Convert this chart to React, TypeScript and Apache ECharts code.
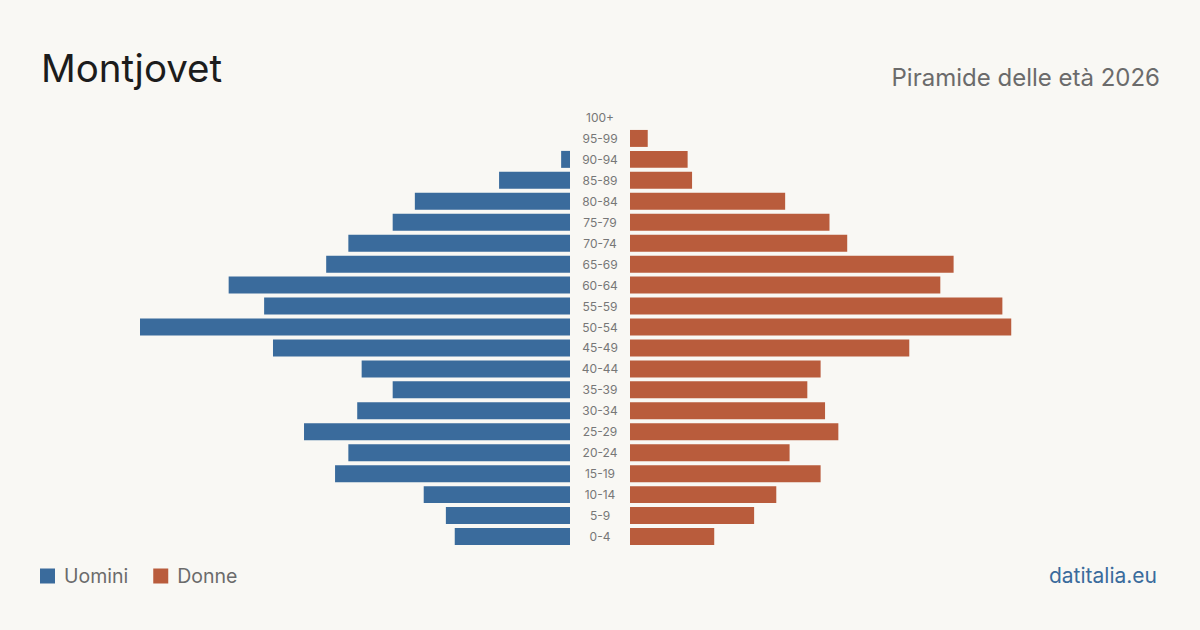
import React, { useEffect, useRef } from "react";
import * as echarts from "echarts";

const ageGroups = ["0-4","5-9","10-14","15-19","20-24","25-29","30-34","35-39","40-44","45-49","50-54","55-59","60-64","65-69","70-74","75-79","80-84","85-89","90-94","95-99","100+"];
const men = [26,28,33,53,50,60,48,40,47,67,97,69,77,55,50,40,35,16,2,0,0];
const women = [19,28,33,43,36,47,44,40,43,63,86,84,70,73,49,45,35,14,13,4,0];
const axisMax = 97;

const BLUE = "#3a6b9c";
const ORANGE = "#b95c3c";
const BG = "#f9f8f4";
const FONT = "Inter, 'Noto Sans', sans-serif";

export default function App() {
  const ref = useRef<HTMLDivElement>(null);
  useEffect(() => {
    const chart = echarts.init(ref.current!, null, { renderer: "svg" });
    chart.setOption({
      animation: false,
      backgroundColor: BG,
      textStyle: { fontFamily: FONT },
      title: [
        { text: "Montjovet", left: 36, top: 43, textStyle: { fontFamily: FONT, fontSize: 38.5, fontWeight: 400, color: "#1c1c1c" } },
        { text: "Piramide delle età 2026", right: 35, top: 60, textStyle: { fontFamily: FONT, fontSize: 24, fontWeight: 400, color: "#6b6b6b" } },
        { text: "datitalia.eu", right: 38, top: 560, textStyle: { fontFamily: FONT, fontSize: 21, fontWeight: 400, color: "#3a6b9c" } },
      ],
      legend: {
        left: 35, top: 561, itemWidth: 15, itemHeight: 15, itemGap: 25,
        icon: "rect",
        textStyle: { fontFamily: FONT, fontSize: 19.5, color: "#6b6b6b", padding: [0, 0, 0, 4] },
        data: ["Uomini", "Donne"],
      },
      grid: [
        { left: 140, width: 430, top: 107, height: 440 },
        { left: 630, width: 430, top: 107, height: 440 },
      ],
      xAxis: [
        { type: "value", gridIndex: 0, min: 0, max: axisMax, inverse: true, show: false },
        { type: "value", gridIndex: 1, min: 0, max: axisMax, show: false },
      ],
      yAxis: [
        {
          type: "category", gridIndex: 0, data: ageGroups, position: "right",
          axisLine: { show: false }, axisTick: { show: false },
          axisLabel: { align: "center", margin: 30, fontSize: 12, color: "#777", fontFamily: FONT },
        },
        { type: "category", gridIndex: 1, data: ageGroups, show: false },
      ],
      series: [
        { name: "Uomini", type: "bar", xAxisIndex: 0, yAxisIndex: 0, data: men, barCategoryGap: "19%", itemStyle: { color: BLUE } },
        { name: "Donne", type: "bar", xAxisIndex: 1, yAxisIndex: 1, data: women, barCategoryGap: "19%", itemStyle: { color: ORANGE } },
      ],
    });
    return () => chart.dispose();
  }, []);
  return <div ref={ref} style={{ width: 1200, height: 630, position: "absolute", left: 0, top: 0 }} />;
}
